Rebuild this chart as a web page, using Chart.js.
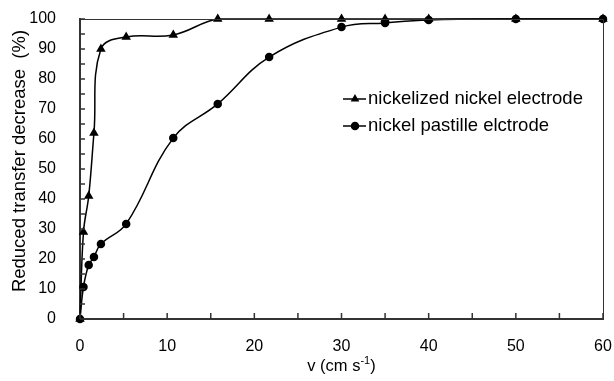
<!DOCTYPE html>
<html>
<head>
<meta charset="utf-8">
<script src="https://cdn.jsdelivr.net/npm/chart.js@4/dist/chart.umd.min.js"></script>
<style>
  html, body { margin: 0; padding: 0; background: #fff; }
  #wrap { width: 614px; height: 381px; }
</style>
</head>
<body>
<div id="wrap"><canvas id="chart"></canvas></div>
<script>
// data
const velocity = [0, 0.4, 1, 1.6, 2.4, 5.3, 10.7, 15.8, 21.7, 30, 35, 40, 50, 60];
const nickelized = [0, 29, 41, 62, 90, 94, 94.7, 100, 100, 100, 100, 100, 100, 100];
const pastille = [0, 10.7, 18, 20.7, 25, 31.7, 60.3, 71.7, 87.3, 97.3, 98.7, 99.7, 100, 100];
const seriesNames = ['nickelized nickel electrode', 'nickel pastille elctrode'];
const xTicks = [0, 10, 20, 30, 40, 50, 60];
const yTicks = [0, 10, 20, 30, 40, 50, 60, 70, 80, 90, 100];
const yTitle = 'Reduced transfer decrease  (%)';

const FONT = '"Liberation Sans", Arial, sans-serif';

function toPoints(xs, ys) {
    return xs.map((x, i) => ({ x: x, y: ys[i] }));
}

// keep label overflow out of the layout, the outer padding sets the frame
function noOverflow(s) {
    s.paddingTop = 0;
    s.paddingBottom = 0;
    s.paddingLeft = 0;
    s.paddingRight = 0;
}

// ticks inside the frame, box lines, legend and axis titles
const frame = {
    id: 'frame',
    afterDraw: function (chart) {
        const ctx = chart.ctx, a = chart.chartArea;
        const sx = chart.scales.x, sy = chart.scales.y;
        ctx.save();
        ctx.strokeStyle = '#333';
        ctx.lineWidth = 1;
        ctx.beginPath();
        ctx.moveTo(a.left, a.top + 0.5);
        ctx.lineTo(a.right + 0.5, a.top + 0.5);
        ctx.lineTo(a.right + 0.5, a.bottom);
        ctx.stroke();

        ctx.lineWidth = 1.5;
        ctx.beginPath();
        sx.ticks.forEach(t => {
            const px = sx.getPixelForValue(t.value);
            ctx.moveTo(px, a.bottom);
            ctx.lineTo(px, a.bottom - 6);
        });
        sy.ticks.forEach(t => {
            const py = sy.getPixelForValue(t.value);
            ctx.moveTo(a.left, py);
            ctx.lineTo(a.left + 5, py);
        });
        ctx.stroke();

        // legend
        const rows = [99, 126];
        ctx.font = '18.5px ' + FONT;
        ctx.textBaseline = 'middle';
        ctx.fillStyle = '#000';
        chart.data.datasets.forEach((d, i) => {
            const y = rows[i];
            ctx.strokeStyle = '#000';
            ctx.lineWidth = 1.5;
            ctx.beginPath();
            ctx.moveTo(343, y);
            ctx.lineTo(366, y);
            ctx.stroke();
            Chart.helpers.drawPoint(ctx, { pointStyle: d.pointStyle, radius: 3.5, borderWidth: 1 }, 355, y);
            ctx.fill();
            ctx.fillText(d.label, 368, y);
        });

        // y axis title
        ctx.save();
        ctx.translate(20, 161);
        ctx.rotate(-Math.PI / 2);
        ctx.textAlign = 'center';
        ctx.textBaseline = 'middle';
        ctx.font = '18.5px ' + FONT;
        ctx.fillText(yTitle, 0, 0);
        ctx.restore();

        // x axis title with superscript
        const cx = (a.left + a.right) / 2, ty = 365;
        const main = 'v (cm s', sup = '-1', tail = ')';
        ctx.font = '16.5px ' + FONT;
        const w1 = ctx.measureText(main).width, w3 = ctx.measureText(tail).width;
        ctx.font = '11px ' + FONT;
        const w2 = ctx.measureText(sup).width;
        let x0 = cx - (w1 + w2 + w3) / 2;
        ctx.textAlign = 'left';
        ctx.textBaseline = 'alphabetic';
        ctx.font = '16.5px ' + FONT;
        ctx.fillText(main, x0, ty + 6);
        ctx.font = '11px ' + FONT;
        ctx.fillText(sup, x0 + w1, ty - 1);
        ctx.font = '16.5px ' + FONT;
        ctx.fillText(tail, x0 + w1 + w2, ty + 6);
        ctx.restore();
    }
};

new Chart(document.getElementById('chart'), {
    type: 'line',
    data: {
        datasets: [
            {
                label: seriesNames[0],
                data: toPoints(velocity, nickelized),
                borderColor: '#000',
                backgroundColor: '#000',
                borderWidth: 1.5,
                pointStyle: 'triangle',
                pointRadius: 4,
                tension: 0.4,
                clip: false
            },
            {
                label: seriesNames[1],
                data: toPoints(velocity, pastille),
                borderColor: '#000',
                backgroundColor: '#000',
                borderWidth: 1.5,
                pointStyle: 'circle',
                pointRadius: 3.5,
                tension: 0.4,
                clip: false
            }
        ]
    },
    options: {
        responsive: true,
        maintainAspectRatio: false,
        animation: false,
        layout: { padding: { top: 19, right: 11, left: 0, bottom: 0 } },
        plugins: { legend: { display: false }, tooltip: { enabled: false } },
        scales: {
            x: {
                type: 'linear',
                min: 0, max: 60,
                grid: { display: false },
                border: { display: true, color: '#333', width: 2 },
                ticks: {
                    stepSize: 5, autoSkip: false, maxRotation: 0, padding: 10,
                    color: '#000', font: { family: FONT, size: 16 },
                    callback: v => xTicks.includes(v) ? String(v) : ''
                },
                afterFit: s => { s.height = 62; noOverflow(s); }
            },
            y: {
                min: 0, max: 100,
                grid: { display: false },
                border: { display: true, color: '#333', width: 2 },
                ticks: {
                    stepSize: 5, autoSkip: false, padding: 16,
                    color: '#000', font: { family: FONT, size: 16 },
                    callback: v => yTicks.includes(v) ? String(v) : ''
                },
                afterFit: s => { s.width = 80; noOverflow(s); }
            }
        }
    },
    plugins: [frame]
});
</script>
</body>
</html>
